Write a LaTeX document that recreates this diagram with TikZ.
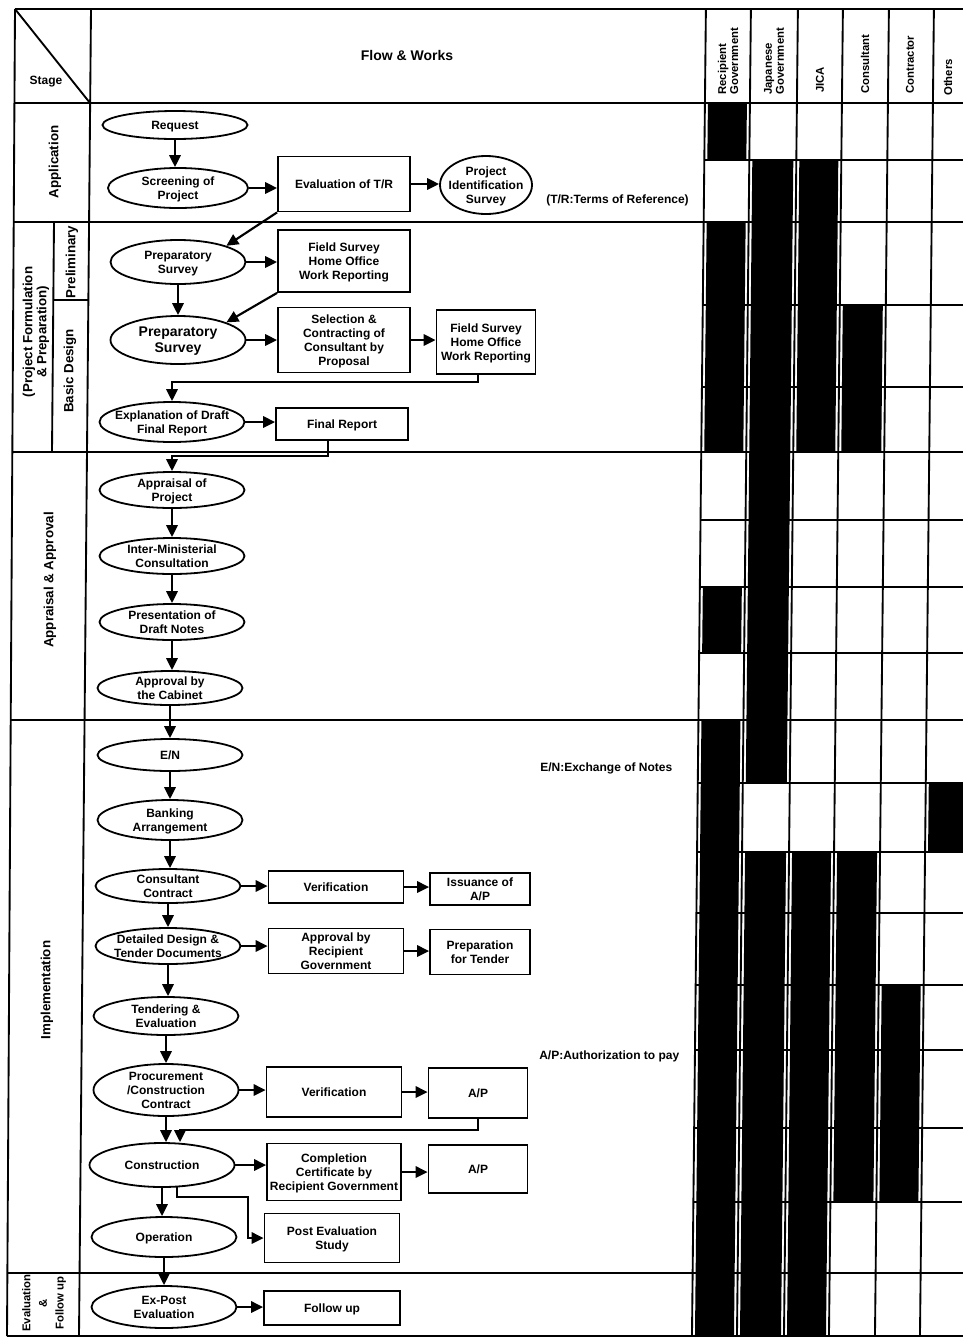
\documentclass[tikz,border=0pt]{standalone}
\usepackage{fontspec}
\setmainfont{Liberation Sans}
\usetikzlibrary{shapes.geometric,arrows.meta,calc}
\newcommand{\tx}[1]{\makebox[0pt]{\raisebox{-3.5pt}[0pt][0pt]{$\vcenter{\hbox{\begin{tabular}{@{}c@{}}#1\end{tabular}}}$}}}
\newcommand{\cellblk}[4]{\fill (#1,#3) -- (#2,#3) -- (#2,#4) -- (#1,#4) -- cycle;}
\begin{document}
\begin{tikzpicture}[x=0.75pt,y=-0.75pt,
  nd/.style={font=\bfseries\fontsize{9}{10.5}\selectfont, inner sep=0pt, line width=1.35pt},
  ell/.style={nd, draw, ellipse, minimum width=108.75pt},
  bx/.style={nd, draw, rectangle},
  arr/.style={-{Triangle[length=9pt,width=8.5pt]}, line width=1.6pt},
  stg/.style={font=\bfseries\fontsize{10}{10.5}\selectfont, inner sep=0pt},
  hdr/.style={font=\bfseries\fontsize{8.5}{9}\selectfont, inner sep=0pt},
  nte/.style={font=\bfseries\fontsize{9}{10}\selectfont, inner sep=0pt},
  frm/.style={line width=1.4pt},
]
\fill[white] (0,0) rectangle (963,1339);
\useasboundingbox (0,0) rectangle (963,1339);

% ---------- participation grid (scan is slightly skewed) ----------
\begin{scope}[xslant=0.0105]
  \cellblk{709}{748}{103}{160}
  \cellblk{709}{748}{223}{452}
  \cellblk{709}{748}{587}{653}
  \cellblk{709}{748}{720}{1336}
  \cellblk{754}{795}{160}{783}
  \cellblk{754}{795}{852}{1336}
  \cellblk{801}{840}{160}{452}
  \cellblk{801}{840}{852}{1336}
  \cellblk{846}{886}{305}{452}
  \cellblk{846}{886}{852}{1202}
  \cellblk{892}{931}{985}{1202}
  \cellblk{937}{975}{783}{852}
  \foreach \cx in {706,751,798,843,889,934}
    \draw[frm] (\cx,9) -- (\cx,1336);
  \foreach \ry in {160,305,387,520,587,653,783,852,913,985,1050,1128,1202}
    \draw[frm] (706,\ry) -- (975,\ry);
\end{scope}

% ---------- frame and stage lines ----------
\draw[frm] (15,9) -- (963,9);
\draw[frm] (14,103) -- (963,103);
\draw[frm] (14,222) -- (963,222);
\draw[frm] (12,452) -- (963,452);
\draw[frm] (11,720) -- (963,720);
\draw[frm] (7,1273) -- (963,1273);
\draw[frm] (7,1336) -- (963,1336);
\draw[frm] (15,9) -- (7,1336);
\draw[frm] (91,9) -- (79,1336);
\draw[frm] (15,9) -- (90,103);
\draw[frm] (54,222) -- (52,452);
\draw[frm] (53,300) -- (88,300);

% ---------- header ----------
\node[nd] (stage) at (46,82) {Stage};
\node[stg, font=\bfseries\fontsize{10.5}{12}\selectfont] (fw) at (407,55) {Flow \& Works};
\node[hdr, rotate=90, anchor=west, align=left] (hRG) at (728,95) {Recipient\\Government};
\node[hdr, rotate=90, anchor=west, align=left] (hJG) at (774,95) {Japanese\\Government};
\node[hdr, rotate=90, anchor=west] (hJI) at (820,93) {JICA};
\node[hdr, rotate=90, anchor=west] (hCS) at (865,94) {Consultant};
\node[hdr, rotate=90, anchor=west] (hCT) at (910,94) {Contractor};
\node[hdr, rotate=90, anchor=west] (hOT) at (948,96) {Others};

% ---------- stage labels ----------
\node[stg, rotate=90] (sApp) at (55,162) {Application};
\node[stg, rotate=90, align=center] (sPF) at (36,332) {(Project Formulation\\\& Preparation)};
\node[stg, rotate=90] (sPre) at (72,262) {Preliminary};
\node[stg, rotate=90] (sBD) at (70,371) {Basic Design};
\node[stg, rotate=90] (sAA) at (50,580) {Appraisal \& Approval};
\node[stg, rotate=90] (sImp) at (47,990) {Implementation};
\node[stg, rotate=90, align=center, font=\bfseries\fontsize{8.5}{12.5}\selectfont] (sEF) at (44,1303) {Evaluation\\\&\\Follow up};

% ---------- Application ----------
\node[ell, minimum height=21pt] (req) at (175,125) {\tx{Request}};
\node[ell, minimum width=105pt, minimum height=30pt] (scr) at (178,188) {\tx{Screening of\\Project}};
\node[bx, minimum width=99pt, minimum height=41.25pt] (evl) at (344,184) {\tx{Evaluation of T/R}};
\node[ell, minimum width=69pt, minimum height=43.5pt] (pis) at (486,185) {\tx{Project\\Identification\\Survey}};
\node[nte, anchor=west] (ntr) at (546,200) {(T/R:Terms of Reference)};

% ---------- Project Formulation & Preparation ----------
\node[ell, minimum width=101.25pt, minimum height=33pt] (ps1) at (178,262) {\tx{Preparatory\\Survey}};
\node[bx, minimum width=99pt, minimum height=46.5pt] (fs1) at (344,261) {\tx{Field Survey\\Home Office\\Work Reporting}};
\node[ell, minimum width=101.25pt, minimum height=36pt, font=\bfseries\fontsize{10.5}{12}\selectfont] (ps2) at (178,340) {\tx{Preparatory\\Survey}};
\node[bx, minimum width=99pt, minimum height=48.75pt] (sel) at (344,340) {\tx{Selection \&\\Contracting of\\Consultant by\\Proposal}};
\node[bx, minimum width=74.25pt, minimum height=48pt] (fs2) at (486,342) {\tx{Field Survey\\Home Office\\Work Reporting}};
\node[ell, minimum height=30pt] (exp) at (172,422) {\tx{Explanation of Draft\\Final Report}};
\node[bx, minimum width=99pt, minimum height=24pt] (fr) at (342,424) {\tx{Final Report}};

% ---------- Appraisal & Approval ----------
\node[ell, minimum height=27pt] (app) at (172,490) {\tx{Appraisal of\\Project}};
\node[ell, minimum height=27pt] (imc) at (172,556) {\tx{Inter-Ministerial\\Consultation}};
\node[ell, minimum height=27pt] (pdn) at (172,622) {\tx{Presentation of\\Draft Notes}};
\node[ell, minimum height=25.5pt] (abc) at (170,688) {\tx{Approval by\\the Cabinet}};

% ---------- Implementation ----------
\node[ell, minimum height=24pt] (en) at (170,755) {\tx{E/N}};
\node[nte, anchor=west] (nen) at (540,768) {E/N:Exchange of Notes};
\node[ell, minimum height=30pt] (bank) at (170,820) {\tx{Banking\\Arrangement}};
\node[ell, minimum height=25.5pt] (cc) at (168,886) {\tx{Consultant\\Contract}};
\node[bx, minimum width=101.25pt, minimum height=24pt] (ver1) at (336,887) {\tx{Verification}};
\node[bx, minimum width=75pt, minimum height=24pt] (iap) at (480,889) {\tx{Issuance of\\A/P}};
\node[ell, minimum height=27pt] (ddt) at (168,946) {\tx{Detailed Design \&\\Tender Documents}};
\node[bx, minimum width=101.25pt, minimum height=33.75pt] (arg) at (336,951) {\tx{Approval by\\Recipient\\Government}};
\node[bx, minimum width=75pt, minimum height=33.75pt] (pft) at (480,952) {\tx{Preparation\\for Tender}};
\node[ell, minimum height=28.5pt] (tnd) at (166,1016) {\tx{Tendering \&\\Evaluation}};
\node[nte, anchor=west] (nap) at (539,1056) {A/P:Authorization to pay};
\node[ell, minimum height=39pt] (pcc) at (166,1090) {\tx{Procurement\\/Construction\\Contract}};
\node[bx, minimum width=101.25pt, minimum height=37.5pt] (ver2) at (334,1092) {\tx{Verification}};
\node[bx, minimum width=74.25pt, minimum height=37.5pt] (ap1) at (478,1093) {\tx{A/P}};
\node[ell, minimum height=33pt] (con) at (162,1165) {\tx{Construction}};
\node[bx, minimum width=100.5pt, minimum height=42.75pt] (ccr) at (334,1172) {\tx{Completion\\Certificate by\\Recipient Government}};
\node[bx, minimum width=74.25pt, minimum height=36pt] (ap2) at (478,1169) {\tx{A/P}};
\node[ell, minimum height=30pt] (op) at (164,1237) {\tx{Operation}};
\node[bx, minimum width=101.25pt, minimum height=36.75pt] (pes) at (332,1238) {\tx{Post Evaluation\\Study}};

% ---------- Evaluation & Follow up ----------
\node[ell, minimum height=31.5pt] (exq) at (164,1307) {\tx{Ex-Post\\Evaluation}};
\node[bx, minimum width=102pt, minimum height=25.5pt] (fu) at (332,1308) {\tx{Follow up}};

% ---------- vertical arrows ----------
\foreach \a/\b in {req/scr, ps1/ps2, app/imc, imc/pdn, pdn/abc, abc/en, en/bank, bank/cc, cc/ddt, ddt/tnd, tnd/pcc, pcc/con, con/op, op/exq}
  \draw[arr] (\a.south) -- (\a.south |- \b.north);

% ---------- horizontal arrows ----------
\foreach \a/\b in {scr/evl, evl/pis, ps1/fs1, ps2/sel, sel/fs2, exp/fr, cc/ver1, ver1/iap, ddt/arg, arg/pft, pcc/ver2, ver2/ap1, con/ccr, ccr/ap2, exq/fu}
  \draw[arr] (\a.east) -- (\a.east -| \b.west);

% ---------- other connectors ----------
\draw[arr] (evl.south west) -- (ps1.north east);
\draw[arr] (fs1.south west) -- (ps2.north east);
\draw[arr] ($(fs2.south)+(-8,0)$) -- ++(0,7) -| (exp.north);
\draw[arr] ($(fr.south)+(-14,0)$) -- ++(0,15) -| (app.north);
\draw[arr] (ap1.south) -- ++(0,11) -| ($(con.north)+(18,0)$);
\draw[arr] ($(con.south)+(15,-1)$) -- ++(0,10) -| ($(pes.west)+(-16,0)$) -- (pes.west);
\end{tikzpicture}
\end{document}
